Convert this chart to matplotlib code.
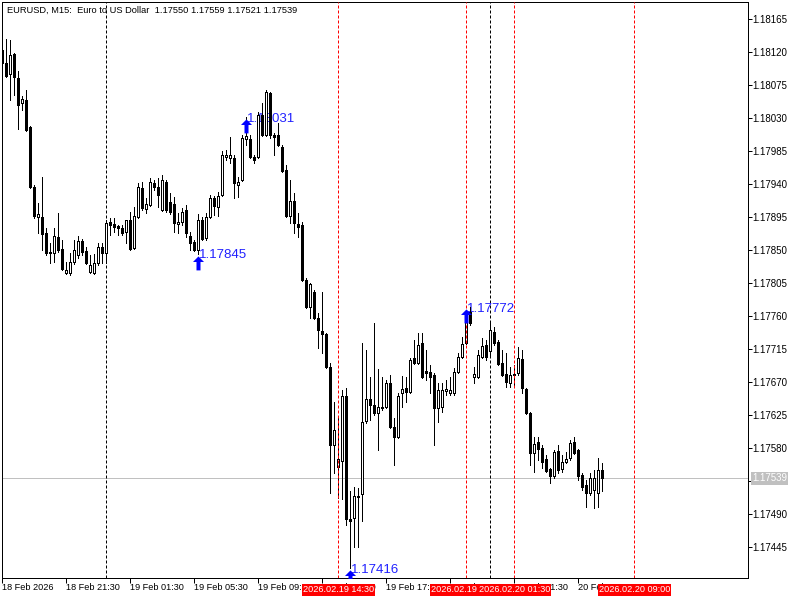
import matplotlib
matplotlib.use("Agg")
import matplotlib.pyplot as plt
from matplotlib.path import Path
from matplotlib.transforms import blended_transform_factory
import numpy as np

plt.rcParams['font.family'] = ['Liberation Sans', 'DejaVu Sans']

# ---------------- data (EURUSD M15, bar 0 = 18 Feb 17:30) ----------------
opens = [
    1.18123, 1.18105, 1.18090, 1.18117, 1.18085, 1.18050, 1.18055, 1.18018, 1.17936, 1.17895,
    1.17895, 1.17873, 1.17846, 1.17846, 1.17868, 1.17851, 1.17819, 1.17819, 1.17834, 1.17843,
    1.17862, 1.17849, 1.17820, 1.17819, 1.17832, 1.17854, 1.17846, 1.17888, 1.17885, 1.17883,
    1.17880, 1.17875, 1.17891, 1.17853, 1.17895, 1.17935, 1.17906, 1.17911, 1.17941, 1.17936,
    1.17905, 1.17943, 1.17915, 1.17913, 1.17885, 1.17888, 1.17905, 1.17869, 1.17861, 1.17850,
    1.17891, 1.17866, 1.17895, 1.17921, 1.17909, 1.17925, 1.17977, 1.17975, 1.17975, 1.17939,
    1.17945, 1.18001, 1.18001, 1.17977, 1.17977, 1.18034, 1.18007, 1.18064, 1.18007, 1.18007,
    1.17990, 1.17959, 1.17896, 1.17917, 1.17885, 1.17884, 1.17809, 1.17772, 1.17793, 1.17757,
    1.17740, 1.17735, 1.17690, 1.17584, 1.17554, 1.17562, 1.17651, 1.17483, 1.17485, 1.17513,
    1.17517, 1.17617, 1.17647, 1.17639, 1.17628, 1.17635, 1.17636, 1.17669, 1.17609, 1.17595,
    1.17655, 1.17662, 1.17656, 1.17703, 1.17696, 1.17723, 1.17685, 1.17684, 1.17680, 1.17635,
    1.17636, 1.17658, 1.17655, 1.17655, 1.17684, 1.17704, 1.17723, 1.17765, 1.17677, 1.17677,
    1.17704, 1.17720, 1.17712, 1.17738, 1.17725, 1.17696, 1.17681, 1.17669, 1.17680, 1.17682,
    1.17701, 1.17660, 1.17628, 1.17573, 1.17588, 1.17580, 1.17565, 1.17551, 1.17542, 1.17576,
    1.17551, 1.17561, 1.17566, 1.17588, 1.17577, 1.17543, 1.17530, 1.17519, 1.17523, 1.17519,
    1.17550,
]
highs = [
    1.18127, 1.18138, 1.18136, 1.18119, 1.18094, 1.18060, 1.18068, 1.18019, 1.17939, 1.17914,
    1.17950, 1.17880, 1.17860, 1.17880, 1.17900, 1.17864, 1.17834, 1.17846, 1.17864, 1.17869,
    1.17865, 1.17854, 1.17843, 1.17845, 1.17860, 1.17860, 1.17891, 1.17894, 1.17894, 1.17884,
    1.17884, 1.17891, 1.17902, 1.17909, 1.17941, 1.17943, 1.17921, 1.17948, 1.17945, 1.17948,
    1.17952, 1.17945, 1.17928, 1.17922, 1.17900, 1.17907, 1.17911, 1.17875, 1.17864, 1.17899,
    1.17895, 1.17900, 1.17925, 1.17924, 1.17929, 1.17985, 1.17986, 1.18004, 1.17980, 1.17950,
    1.18007, 1.18031, 1.18007, 1.17980, 1.18038, 1.18050, 1.18068, 1.18065, 1.18010, 1.18023,
    1.17993, 1.17966, 1.17945, 1.17928, 1.17900, 1.17888, 1.17812, 1.17805, 1.17795, 1.17764,
    1.17793, 1.17737, 1.17696, 1.17643, 1.17621, 1.17659, 1.17662, 1.17521, 1.17527, 1.17525,
    1.17723, 1.17714, 1.17677, 1.17750, 1.17688, 1.17677, 1.17673, 1.17680, 1.17621, 1.17655,
    1.17678, 1.17677, 1.17703, 1.17727, 1.17737, 1.17737, 1.17714, 1.17693, 1.17682, 1.17669,
    1.17669, 1.17673, 1.17677, 1.17689, 1.17710, 1.17731, 1.17768, 1.17772, 1.17690, 1.17714,
    1.17730, 1.17727, 1.17752, 1.17745, 1.17727, 1.17714, 1.17710, 1.17690, 1.17693, 1.17718,
    1.17714, 1.17662, 1.17629, 1.17595, 1.17595, 1.17584, 1.17570, 1.17553, 1.17577, 1.17584,
    1.17570, 1.17575, 1.17591, 1.17595, 1.17579, 1.17546, 1.17536, 1.17546, 1.17550, 1.17566,
    1.17559,
]
lows = [
    1.18104, 1.18086, 1.18055, 1.18061, 1.18015, 1.18041, 1.18012, 1.17935, 1.17894, 1.17873,
    1.17850, 1.17843, 1.17832, 1.17834, 1.17847, 1.17823, 1.17817, 1.17816, 1.17831, 1.17839,
    1.17843, 1.17831, 1.17819, 1.17817, 1.17830, 1.17832, 1.17832, 1.17870, 1.17875, 1.17870,
    1.17870, 1.17860, 1.17850, 1.17851, 1.17894, 1.17905, 1.17900, 1.17910, 1.17932, 1.17909,
    1.17903, 1.17902, 1.17899, 1.17875, 1.17873, 1.17884, 1.17868, 1.17850, 1.17849, 1.17845,
    1.17864, 1.17864, 1.17894, 1.17898, 1.17896, 1.17924, 1.17973, 1.17969, 1.17921, 1.17922,
    1.17944, 1.17993, 1.17975, 1.17969, 1.17975, 1.18005, 1.18005, 1.18003, 1.17980, 1.17992,
    1.17956, 1.17895, 1.17887, 1.17873, 1.17868, 1.17808, 1.17771, 1.17757, 1.17756, 1.17716,
    1.17710, 1.17689, 1.17519, 1.17546, 1.17512, 1.17510, 1.17475, 1.17416, 1.17445, 1.17445,
    1.17480, 1.17614, 1.17618, 1.17625, 1.17577, 1.17632, 1.17635, 1.17607, 1.17557, 1.17594,
    1.17636, 1.17643, 1.17655, 1.17695, 1.17695, 1.17675, 1.17673, 1.17655, 1.17584, 1.17615,
    1.17629, 1.17652, 1.17652, 1.17652, 1.17682, 1.17703, 1.17722, 1.17748, 1.17669, 1.17675,
    1.17703, 1.17700, 1.17704, 1.17720, 1.17693, 1.17678, 1.17663, 1.17663, 1.17665, 1.17680,
    1.17655, 1.17626, 1.17557, 1.17547, 1.17564, 1.17553, 1.17547, 1.17532, 1.17539, 1.17546,
    1.17547, 1.17560, 1.17564, 1.17572, 1.17536, 1.17523, 1.17500, 1.17516, 1.17498, 1.17500,
    1.17521,
]
closes = [
    1.18105, 1.18087, 1.18116, 1.18086, 1.18048, 1.18056, 1.18014, 1.17936, 1.17896, 1.17899,
    1.17872, 1.17846, 1.17847, 1.17869, 1.17850, 1.17824, 1.17823, 1.17834, 1.17850, 1.17862,
    1.17847, 1.17832, 1.17830, 1.17832, 1.17854, 1.17846, 1.17887, 1.17884, 1.17881, 1.17880,
    1.17873, 1.17891, 1.17851, 1.17896, 1.17936, 1.17907, 1.17913, 1.17943, 1.17936, 1.17925,
    1.17945, 1.17905, 1.17902, 1.17887, 1.17888, 1.17902, 1.17873, 1.17860, 1.17850, 1.17891,
    1.17865, 1.17895, 1.17921, 1.17910, 1.17924, 1.17980, 1.17980, 1.17980, 1.17941, 1.17943,
    1.18003, 1.18005, 1.17977, 1.17973, 1.18034, 1.18007, 1.18065, 1.18007, 1.18004, 1.17993,
    1.17958, 1.17896, 1.17917, 1.17887, 1.17881, 1.17809, 1.17772, 1.17804, 1.17757, 1.17741,
    1.17735, 1.17690, 1.17584, 1.17605, 1.17565, 1.17651, 1.17483, 1.17480, 1.17515, 1.17515,
    1.17615, 1.17647, 1.17639, 1.17628, 1.17636, 1.17636, 1.17669, 1.17609, 1.17595, 1.17651,
    1.17660, 1.17656, 1.17700, 1.17696, 1.17720, 1.17677, 1.17682, 1.17677, 1.17635, 1.17659,
    1.17659, 1.17660, 1.17659, 1.17684, 1.17704, 1.17722, 1.17752, 1.17750, 1.17681, 1.17707,
    1.17719, 1.17704, 1.17741, 1.17723, 1.17695, 1.17680, 1.17670, 1.17680, 1.17681, 1.17703,
    1.17662, 1.17628, 1.17573, 1.17585, 1.17579, 1.17561, 1.17549, 1.17542, 1.17575, 1.17550,
    1.17561, 1.17565, 1.17587, 1.17573, 1.17542, 1.17527, 1.17519, 1.17539, 1.17539, 1.17550,
    1.17539,
]

title_text = "EURUSD, M15:  Euro to US Dollar  1.17550 1.17559 1.17521 1.17539"
last_price = 1.17539

time_tick_bars = [0, 16, 32, 48, 64, 80, 96, 112, 128, 144]
time_tick_labels = ["18 Feb 2026", "18 Feb 21:30", "19 Feb 01:30", "19 Feb 05:30",
                    "19 Feb 09:30", "19 Feb 13:30", "19 Feb 17:30", "19 Feb 21:30",
                    "20 Feb 01:30", "20 Feb 05:30"]

price_ticks = [1.18165, 1.18120, 1.18075, 1.18030, 1.17985, 1.17940, 1.17895, 1.17850,
               1.17805, 1.17760, 1.17715, 1.17670, 1.17625, 1.17580, 1.17535, 1.17490,
               1.17445]

day_separator_bars = [26, 122]
vline_bars = [84, 116, 128, 158]
vline_labels = ["2026.02.19 14:30", "2026.02.19 22:30", "2026.02.20 01:30", "2026.02.20 09:00"]

arrow_bars = [49, 61, 87, 116]
arrow_prices = [1.17845, 1.18031, 1.17416, 1.17772]

# ---------------- figure ----------------
fig = plt.figure(figsize=(8, 6), dpi=100)
fig.patch.set_facecolor('white')
ax = fig.add_axes([2 / 800, 22 / 600, 746 / 800, 576 / 600])
ax.set_facecolor('white')

o = np.array(opens)
h = np.array(highs)
l = np.array(lows)
c = np.array(closes)
x = np.arange(len(o))
bull = c >= o

LW = 0.72  # 1 px

ax.axhline(last_price, color='#c0c0c0', lw=LW, zorder=1)
for b in day_separator_bars:
    ax.axvline(b, color='black', lw=LW, ls=(0, (3, 2)), zorder=2)

ax.vlines(x, l, h, color='black', lw=LW, zorder=3, antialiased=False)
ax.bar(x[bull], (c - o)[bull], bottom=o[bull], width=0.5, color='white',
       edgecolor='black', linewidth=LW, zorder=4, antialiased=False)
ax.bar(x[~bull], (o - c)[~bull], bottom=c[~bull], width=0.5, color='black',
       edgecolor='black', linewidth=LW, zorder=4, antialiased=False)

for b in vline_bars:
    ax.axvline(b, color='red', lw=LW, ls=(0, (3, 2)), zorder=5)

# arrows
verts = [(0, -0.12), (0.346, -0.47), (0.126, -0.47), (0.126, -1.0),
         (-0.126, -1.0), (-0.126, -0.47), (-0.346, -0.47), (0, -0.12)]
codes = [Path.MOVETO] + [Path.LINETO] * 6 + [Path.CLOSEPOLY]
arrow_marker = Path(verts, codes)
ax.plot(arrow_bars, arrow_prices, ls='none', marker=arrow_marker, ms=22.9,
        color='#0000ff', markeredgewidth=0, zorder=6)
for b, p in zip(arrow_bars, arrow_prices):
    ax.annotate(f"{p:.5f}", (b, p), xytext=(0.5, -3.4), textcoords='offset points',
                ha='left', va='baseline', color='#2020ff', fontsize=9.5, zorder=2.8)

ax.set_xlim(-0.075, 186.425)
ax.set_ylim(1.174027, 1.181882)

for s in ax.spines.values():
    s.set_linewidth(LW)
    s.set_color('black')

ax.yaxis.tick_right()
ax.set_yticks(price_ticks)
ax.set_yticklabels([f"{t:.5f}" for t in price_ticks])
ax.tick_params(axis='y', length=2.88, width=LW, pad=0, labelsize=7, direction='out')

ax.set_xticks(time_tick_bars)
ax.set_xticklabels(time_tick_labels)
ax.tick_params(axis='x', length=3.6, width=LW, pad=0, labelsize=6.6, direction='out')
for lbl in ax.get_xticklabels():
    lbl.set_horizontalalignment('left')

# red time labels
for b, t in zip(vline_bars, vline_labels):
    ax.text(b, -12 / 576, t, transform=ax.get_xaxis_transform(), ha='center', va='center',
            color='white', fontsize=6.6, zorder=7, clip_on=False,
            bbox=dict(boxstyle='square,pad=0.12', fc='#ff0000', ec='none'))

# current price label on the axis
tr = blended_transform_factory(ax.transAxes, ax.transData)
ax.text(1 + 4 / 746, last_price, f"{last_price:.5f}", transform=tr, ha='left', va='center',
        color='white', fontsize=7, zorder=7, clip_on=False,
        bbox=dict(boxstyle='square,pad=0.15', fc='#c0c0c0', ec='none'))

fig.text(7 / 800, 1 - 10 / 600, title_text, ha='left', va='center', fontsize=6.7, color='black')

fig.savefig("out.png", dpi=100)
